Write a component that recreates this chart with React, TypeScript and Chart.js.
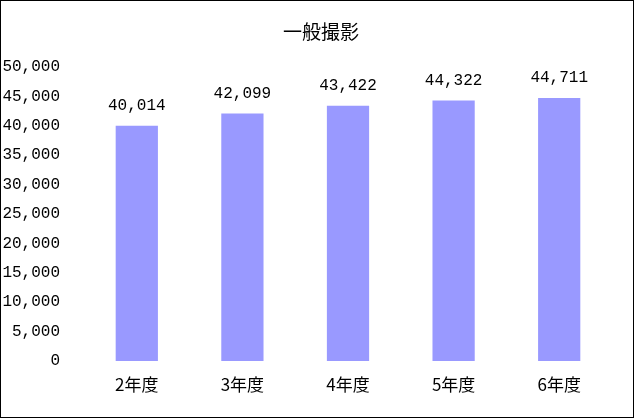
import React, { useEffect, useRef } from 'react';
import { Chart, registerables } from 'chart.js';

Chart.register(...registerables);

const title = '一般撮影';
const categories = ['2年度', '3年度', '4年度', '5年度', '6年度'];
const counts = [40014, 42099, 43422, 44322, 44711];

const numFont = '"Liberation Mono", "Noto Sans CJK JP", monospace';
const jpFont = '"Noto Sans CJK JP", "DejaVu Sans", sans-serif';

const fmt = (v: number) => v.toLocaleString('en-US');

// title and value labels over the bars
const labelPlugin = {
  id: 'labels',
  afterDraw(chart: any) {
    const ctx = chart.ctx;
    ctx.save();
    ctx.fillStyle = '#000';
    ctx.textAlign = 'center';
    ctx.textBaseline = 'middle';
    ctx.font = '19px ' + jpFont;
    ctx.fillText(title, 320, 31);

    ctx.font = '16px ' + numFont;
    const meta = chart.getDatasetMeta(0);
    meta.data.forEach((bar: any, i: number) => {
      ctx.fillText(fmt(counts[i]), bar.x, bar.y - 20);
    });
    ctx.restore();
  },
};

const BarChart: React.FC = () => {
  const chartRef = useRef<HTMLCanvasElement>(null);
  const chartInstance = useRef<Chart>();

  useEffect(() => {
    if (chartRef.current) {
      chartInstance.current = new Chart(chartRef.current, {
        type: 'bar',
        data: {
          labels: categories,
          datasets: [
            {
              data: counts,
              backgroundColor: '#9999FF',
              barPercentage: 0.4,
              categoryPercentage: 1,
            },
          ],
        },
        options: {
          responsive: false,
          animation: false,
          devicePixelRatio: 1,
          layout: { padding: { top: 66, right: 21, left: 0, bottom: 0 } },
          plugins: {
            legend: { display: false },
            tooltip: { enabled: false },
          },
          scales: {
            x: {
              grid: { display: false, drawTicks: false },
              border: { display: false },
              ticks: { color: '#000', font: { family: jpFont, size: 17 }, padding: 13 },
              afterFit: (s: any) => {
                s.height = 56;
              },
            },
            y: {
              min: 0,
              max: 50000,
              grid: { display: false, drawTicks: false },
              border: { display: false },
              ticks: {
                stepSize: 5000,
                color: '#000',
                font: { family: numFont, size: 16 },
                padding: 24,
                callback: (v: any) => fmt(Number(v)),
              },
              afterFit: (s: any) => {
                s.width = 83;
              },
            },
          },
        },
        plugins: [labelPlugin],
      });
    }

    return () => {
      if (chartInstance.current) {
        chartInstance.current.destroy();
      }
    };
  }, []);

  return (
    <div
      style={{
        position: 'absolute',
        left: 0,
        top: 0,
        width: 634,
        height: 418,
        border: '1px solid #000',
        boxSizing: 'border-box',
        background: '#fff',
      }}
    >
      <canvas ref={chartRef} width={632} height={416} style={{ display: 'block' }} />
    </div>
  );
};

export default function App() {
  return <BarChart />;
}
